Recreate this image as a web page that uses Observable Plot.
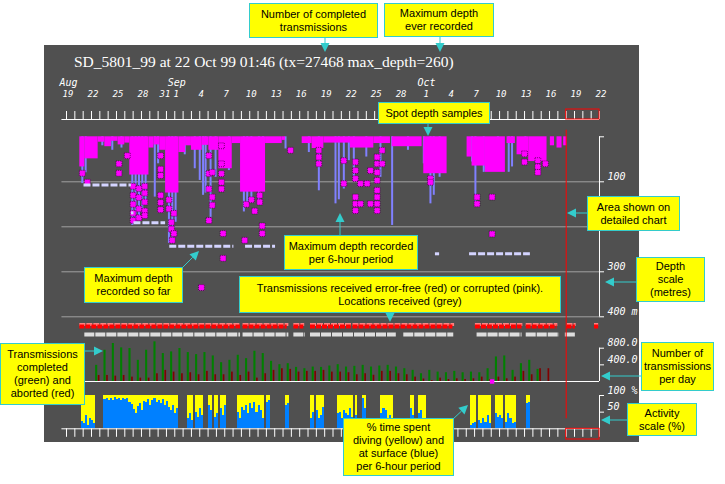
<!DOCTYPE html>
<html><head><meta charset="utf-8">
<script src="https://cdn.jsdelivr.net/npm/d3@7"></script>
<script src="https://cdn.jsdelivr.net/npm/@observablehq/plot@0.6"></script>
<style>
body{margin:0;background:#fff;}
#root{position:relative;width:725px;height:484px;overflow:hidden;background:#fff;font-family:"Liberation Sans",Arial,sans-serif;}
#panel{position:absolute;left:44px;top:45px;width:595px;height:397px;background:#505050;}
.layer{position:absolute;left:0;top:0;}
#title{position:absolute;left:74px;top:53px;color:#fff;font:15.5px "Liberation Serif",serif;white-space:nowrap;}
.box{position:absolute;background:#ffff00;border:1px solid #33cccc;box-sizing:border-box;color:#000;font-size:11px;line-height:13px;text-align:center;display:flex;align-items:center;justify-content:center;white-space:pre;}
</style></head><body>
<div id="root"><div id="panel"></div><div id="title">SD_5801_99 at 22 Oct 99 01:46 (tx=27468 max_depth=260)</div></div>
<script>
// ---------- DATA (x in days since 19 Aug 1999 00:00) ----------
const dayTicks = d3.range(0, 65);
const dayLabelDays = [0,3,6,9,12,13,16,19,22,25,28,31,34,37,40,43,46,49,52,55,58,61,64];
const dayLabelText = ["19","22","25","28","31","1","4","7","10","13","16","19","22","25","28","1","4","7","10","13","16","19","22"];
const monthDays = [0,13,43];
const monthText = ["Aug","Sep","Oct"];
const detailWindow = [60, 64];

// depth panel
const depthGrid = [100,200,300,400];
const depthTicks = [0,100,300,400];
const depthTickLabels = [[100,"100"],[300,"300"],[400,"400 m"]];
// max depth per 6-hour period [day, depth m]
const periodMax = [[1.9,104],[2.3,80],[4.3,20],[5.5,30],[6.6,25],[7.9,197],[8.3,192],[8.7,180],[9.1,170],[9.5,150],
 [10.6,134],[11.0,60],[12.3,237],[12.7,225],[13.1,190],[14.2,40],[15.4,71],[16.0,97],[16.4,130],[16.7,125],[17.3,179],
 [17.9,90],[19.5,75],[21.3,167],[21.7,155],[22.2,140],[23.1,149],[23.6,120],[26.3,27],[29.1,35],[30.3,120],[32.3,149],
 [32.7,140],[33.3,116],[33.9,53],[34.5,97],[36.0,45],[37.7,90],[39.1,197],[41.0,30],[42.9,60],[43.7,149],[44.1,130],
 [44.8,90],[48.7,56],[49.1,152],[50.1,79],[51.8,70],[53.1,79],[53.5,67],[55.1,40]];
// dense spot-depth cover [startDay, endDay, depth]
const denseRuns = [[1.6,2.2,67],[2.2,3.8,49],[3.8,4.6,12],[4.6,5.4,22],[5.4,6.2,10],[6.2,7.0,18],[7.0,7.6,14],
 [7.6,9.9,85],[9.9,10.5,25],[10.5,11.2,18],[11.2,11.9,30],[11.9,13.5,125],[13.5,14.3,35],[14.3,15.0,20],[15.0,16.3,30],
 [16.3,17.1,19],[17.1,18.3,30],[18.3,19.9,71],[19.9,20.9,15],[20.9,23.9,123],[23.9,25.9,15],[25.9,26.3,8],
 [28.3,29.5,15],[29.5,30.9,26],[30.9,34.1,14],[34.1,36.9,25],[36.9,38.9,15],[39.1,42.7,22],[42.9,45.7,82],
 [48.1,48.7,45],[48.7,50.3,65],[50.3,52.7,79],[52.9,53.9,15],[54.1,55.5,40],[55.5,57.7,55],
 [58.1,58.6,20],[58.9,59.5,25],[59.7,60.1,20]];
// scattered spot depth samples [day, depth]
const spots = [[1.9,81],[2.5,101],[6.3,60],[6.3,81],[7.3,42],
 [8.0,110],[8.0,130],[8.0,150],[8.0,170],[8.0,186],[8.7,115],[8.7,135],[8.7,160],[8.7,180],
 [9.4,110],[9.4,125],[9.4,145],[9.4,165],[9.4,175],
 [11.3,42],[11.3,72],[11.3,86],[11.3,130],[11.3,146],[11.3,162],
 [12.3,140],[12.3,160],[12.6,190],[12.6,205],[12.9,170],[12.9,215],[12.7,230],[16.2,335],
 [17.1,42],[17.1,82],[17.1,116],[17.1,186],[17.5,79],[17.5,134],[17.5,152],
 [18.6,20],[18.6,60],[18.6,82],[18.6,101],[18.6,116],[18.8,215],[18.8,270],
 [21.4,230],[21.6,150],[22.2,140],[22.6,165],[23.2,130],[23.2,145],[23.5,198],[23.5,215],
 [26.9,30],[30.3,30],[30.3,45],[30.3,60],
 [33.3,53],[33.3,104],[34.7,56],[34.7,75],[34.7,93],[34.7,134],[34.7,149],[34.7,164],
 [35.3,104],[35.3,149],[36.1,104],[36.5,75],[36.5,149],
 [37.3,45],[37.3,60],[37.3,79],[37.3,97],[37.3,119],[37.3,134],[37.3,149],[37.3,164],[37.9,30],[37.9,60],
 [43.7,93],[43.7,101],[49.3,134],[49.3,149],[51.1,134],[51.1,216],
 [55.0,38],[55.0,56],[56.6,53],[56.6,67],[56.6,79],[57.5,60]];
// maximum depth recorded so far [startDay, endDay, depth]
const maxSoFar = [[2.1,7.8,107],[7.8,8.1,169],[8.1,11.9,191],[12.4,20.1,243],[21.5,25.1,243],[44.3,44.8,260],[48.4,55.7,260]];

// transmissions received [startDay, endDay]
const errorFreeRuns = [[1.6,20.9],[21.2,26.5],[27.3,28.5],[29.3,34.2],[34.4,46.4],[49.1,54.7],[55.2,58.9],[60.1,61.1],[63.4,63.9]];
const corruptedRuns = [[1.6,20.9],[21.2,26.7],[27.3,28.6],[29.3,34.3],[34.4,46.6],[49.1,54.8],[55.2,59.0],[60.1,61.2],[63.4,63.9]];
const locationRuns = [[2.2,20.9],[21.2,26.7],[27.3,28.7],[29.3,39.6],[40.5,46.5],[49.3,54.7],[55.2,59.2],[59.9,61.2]];

// transmissions per day
const completedStart = 3;
const completed = [388,751,913,808,792,509,751,953,671,711,792,695,646,695,614,452,509,630,549,727,671,485,404,428,339,307,347,339,372,404,
 347,364,388,347,372,388,347,307,267,186,267,226,210,243,210,226,210,307,590,614,267,428,509,291];
const abortedStart = 3;
const aborted = [145,145,129,145,105,81,81,186,267,226,186,210,162,243,162,162,226,145,226,81,186,267,307,291,226,243,243,267,226,
 226,210,162,186,150,243,243,186,162,105,60,24,81,48,65,48,65,105,48,105,65,105,243,162,307,307];
const txMarkerDay = [51.1];
const txTicks = [400, 800];
const txTickLabels = [[800,"800.0"],[400,"400.0"]];

// activity: runs of 6-hour periods [firstPeriod, % at surface (blue) ...]; diving (yellow) is the rest to 100
const activityRuns = [
 [7,[22,15,40,10,30,25,15]],
 [18,[88,92,86,90,85,93,88,90,84,92,87,90,80,72,58,45,66,75,55,82,78,88,70,85,90,80,86,75,88,70,82,65]],
 [50,[55,70,45,60]],[58,[30,45,25]],[62,[50,35,60,40]],[68,[70,55]],[71,[35,45]],[74,[60,40,70]],
 [82,[50,30]],[84,[65,55,70,45,75,60,80,50,70,55,30]],[96,[80,85]],[105,[70,75]],[117,[30,50]],[120,[55,30]],
 [122,[40,65]],[130,[45,50,30,55]],[134,[45,40,60,35]],[139,[40]],[142,[90,60]],[151,[45,60]],[153,[55,30]],
 [155,[40,20]],[165,[60,40]],[169,[45,55]],[171,[30,25]],[194,[10,15,20]],[198,[25,15,30,20]],[202,[40,15]],
 [206,[45,35]],[208,[40,30]],[211,[20,45,30,15,20]],[221,[75,80]]];
const activityTicks = [50, 100];
const activityTickLabels = [[100,"100 %"],[50,"50"]];

// annotations
const notes = [
 [249,3,129,35,"Number of completed\ntransmissions"],
 [384,3,110,34,"Maximum depth\never recorded"],
 [378,102,112,22,"Spot depth samples"],
 [587,196,93,35,"Area shown on\ndetailed chart"],
 [284,235,134,35,"Maximum depth recorded\nper 6-hour period"],
 [84,267,99,36,"Maximum depth\nrecorded so far"],
 [239,276,322,37,"Transmissions received error-free (red) or corrupted (pink).\nLocations received (grey)"],
 [636,257,69,45,"Depth\nscale\n(metres)"],
 [0,343,85,62,"Transmissions\ncompleted\n(green) and\naborted (red)"],
 [641,342,73,49,"Number of\ntransmissions\nper day"],
 [627,403,70,33,"Activity\nscale (%)"],
 [343,418,111,58,"% time spent\ndiving (yellow) and\nat surface (blue)\nper 6-hour period"]];
const noteArrows = [[325,38,325,52],[440,37,440,52],[428,124,428,136],[587,213,567,213],[340,235,340,213],[183,267,199,251],
 [390,313,390,322],[636,282,605,282],[85,351,103,351],[641,376,601,376],[627,420,601,420],[452,420,468,405]];

// ---------- DRAW ----------
const root = document.getElementById("root");
const X = {domain: [0, 64], range: [66, 599], axis: null};
const axisStart = -0.55;
const mono = "DejaVu Sans Mono";
function layer(y, marks) {
  const svg = Plot.plot({width: 725, height: 484, x: X, y: {...y, axis: null}, marks,
    style: {background: "transparent", overflow: "visible"}});
  svg.classList.add("layer");
  svg.style.position = "absolute";
  root.appendChild(svg);
}
const labelOpts = {fill: "white", fontStyle: "italic", fontFamily: mono, fontSize: 10, textAnchor: "start", dx: 8, dy: -5};

// depth panel
layer({domain: [0, 400], range: [136.3, 316.3]}, [
  Plot.ruleY(depthGrid, {x1: axisStart, x2: 64, stroke: "#a0a0a0"}),
  Plot.ruleX(periodMax, {x: d => d[0], y1: 0, y2: d => d[1], stroke: "#8080ff", strokeWidth: 2}),
  Plot.rect(denseRuns, {x1: d => d[0], x2: d => d[1], y1: 0, y2: d => d[2], fill: "#ff00ff"}),
  Plot.dot(spots, {x: d => d[0], y: d => d[1], symbol: "square", r: 3.3, fill: "#ff00ff", stroke: "#3a003a", strokeWidth: 0.7, strokeDasharray: "1,1"}),
  Plot.ruleY(maxSoFar, {x1: d => d[0], x2: d => d[1], y: d => d[2], stroke: "#d4d4ff", strokeWidth: 3, strokeDasharray: "7,2"}),
  Plot.ruleX([64], {y1: 0, y2: 400, stroke: "white"}),
  Plot.ruleY(depthTicks, {x1: 64, x2: 64, insetRight: -5, stroke: "white"}),
  Plot.text(depthTickLabels, {x: 64, y: d => d[0], text: d => d[1], ...labelOpts})
]);

// transmission rows
layer({type: "point", domain: ["corrupted", "error-free", "locations"], range: [321.5, 337]}, [
  Plot.ruleY(corruptedRuns, {y: () => "corrupted", x1: d => d[0], x2: d => d[1], stroke: "#ff8080", strokeWidth: 3, strokeDasharray: "6,1"}),
  Plot.ruleY(errorFreeRuns, {y: () => "error-free", dy: -3, x1: d => d[0], x2: d => d[1], stroke: "#ff0000", strokeWidth: 4, strokeDasharray: "5,1"}),
  Plot.ruleY(locationRuns, {y: () => "locations", x1: d => d[0], x2: d => d[1], stroke: "#dddddd", strokeWidth: 4, strokeDasharray: "10,1"})
]);

// transmissions per day
const completedData = completed.map((n, i) => ({day: completedStart + i, n}));
const abortedData = aborted.map((n, i) => ({day: abortedStart + i, n}));
layer({domain: [0, 800], range: [381, 347.7]}, [
  Plot.rect(completedData, {x1: d => d.day + 0.5, x2: d => d.day + 0.75, y1: 0, y2: "n", fill: "#008000"}),
  Plot.rect(abortedData, {x1: d => d.day + 0.82, x2: d => d.day + 1.02, y1: 0, y2: "n", fill: "#800000"}),
  Plot.ruleY([0], {x1: axisStart, x2: 64, stroke: "white"}),
  Plot.dot(txMarkerDay, {x: d => d, y: 0, symbol: "square", r: 2.5, fill: "#ff00ff"}),
  Plot.ruleX([64], {y1: 0, y2: 800, stroke: "white"}),
  Plot.ruleY(txTicks, {x1: 64, x2: 64, insetRight: -5, stroke: "white"}),
  Plot.text(txTickLabels, {x: 64, y: d => d[0], text: d => d[1], ...labelOpts})
]);

// activity
const activity = activityRuns.flatMap(([p0, vals]) => vals.map((b, i) => ({p: p0 + i, blue: b})));
layer({domain: [0, 100], range: [428.3, 395]}, [
  Plot.rect(activity, {x1: d => d.p / 4, x2: d => (d.p + 1) / 4, y1: 0, y2: "blue", fill: "#0080ff", shapeRendering: "crispEdges"}),
  Plot.rect(activity, {x1: d => d.p / 4, x2: d => (d.p + 1) / 4, y1: "blue", y2: 100, fill: "#ffff00", shapeRendering: "crispEdges"}),
  Plot.ruleX([64], {y1: 0, y2: 100, stroke: "white"}),
  Plot.ruleY(activityTicks, {x1: 64, x2: 64, insetRight: -5, stroke: "white"}),
  Plot.text(activityTickLabels, {x: 64, y: d => d[0], text: d => d[1], ...labelOpts})
]);

// time axes (top at 1, bottom at 0)
const dayLabels = dayLabelDays.map((d, i) => ({day: d, label: dayLabelText[i]}));
const months = monthDays.map((d, i) => ({day: d, label: monthText[i]}));
const dayTextOpts = {x: "day", y: 1, text: "label", dy: -25, fill: "white", fontStyle: "italic", fontFamily: mono, fontSize: 9};
layer({domain: [0, 1], range: [428.3, 119]}, [
  Plot.ruleY([0, 1], {x1: axisStart, x2: 64, stroke: "white"}),
  Plot.ruleX(dayTicks, {x: d => d, y1: 1, y2: 1, insetTop: -8, stroke: "white"}),
  Plot.ruleX(dayTicks, {x: d => d, y1: 0, y2: 0, insetBottom: -8.5, stroke: "white"}),
  Plot.text(dayLabels.filter(d => d.day !== 12), {...dayTextOpts, dx: 1.5}),
  Plot.text(dayLabels.filter(d => d.day === 12), {...dayTextOpts, dx: -1.5}),
  Plot.text(months, {x: "day", y: 1, text: "label", dy: -37, dx: 2, fill: "white", fontStyle: "italic", fontFamily: mono, fontSize: 10}),
  Plot.ruleX([detailWindow[0]], {y1: 0, y2: 1, insetTop: -10, insetBottom: -10.7, stroke: "red"}),
  Plot.rect([detailWindow], {x1: d => d[0], x2: d => d[1], y1: 1, y2: 1, insetTop: -10, fill: "none", stroke: "red"}),
  Plot.rect([detailWindow], {x1: d => d[0], x2: d => d[1], y1: 0, y2: 0, insetBottom: -10.7, fill: "none", stroke: "red"})
]);

// annotation arrows
const asvg = d3.select(root).append("svg").attr("class", "layer").attr("width", 725).attr("height", 484)
  .style("position", "absolute");
for (const [x1, y1, x2, y2] of noteArrows) {
  const dx = x2 - x1, dy = y2 - y1, L = Math.hypot(dx, dy), ux = dx / L, uy = dy / L;
  const bx = x2 - ux * 9, by = y2 - uy * 9;
  asvg.append("line").attr("x1", x1).attr("y1", y1).attr("x2", bx).attr("y2", by).attr("stroke", "#33cccc");
  asvg.append("polygon").attr("fill", "#33cccc")
    .attr("points", `${x2},${y2} ${bx - uy * 4.5},${by + ux * 4.5} ${bx + uy * 4.5},${by - ux * 4.5}`);
}
// annotation boxes
for (const [x, y, w, h, t] of notes) {
  const b = document.createElement("div");
  b.className = "box";
  Object.assign(b.style, {left: x + "px", top: y + "px", width: w + "px", height: h + "px"});
  b.textContent = t;
  root.appendChild(b);
}
</script></body></html>
